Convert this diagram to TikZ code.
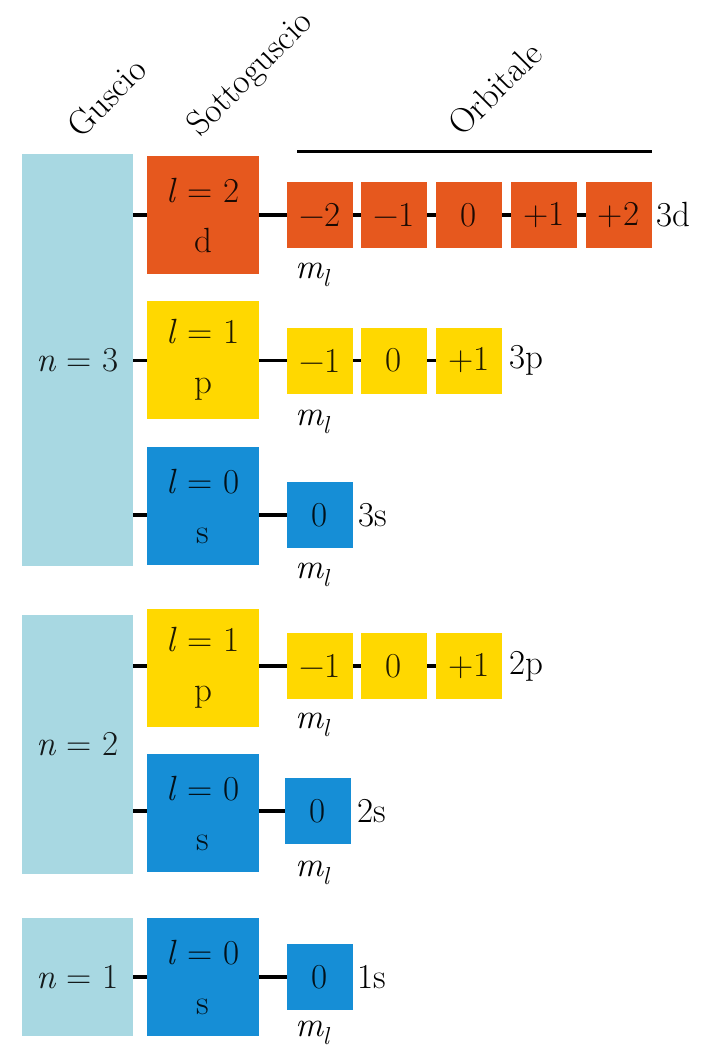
\documentclass[tikz,border=0pt]{standalone}
\newcommand{\orbfont}{\fontsize{35}{42}\selectfont}
\newcommand{\headfont}{\fontsize{35}{42}\selectfont}
\newcommand{\mlsym}{\textit{m}\textsubscript{\kern-1pt\textit{l}}}
\definecolor{gblue}{RGB}{168,216,226}
\definecolor{dorange}{RGB}{230,88,30}
\definecolor{pyellow}{RGB}{255,216,0}
\definecolor{sblue}{RGB}{22,142,214}
\tikzset{
  basebox/.style={draw=none, inner sep=0pt, outer sep=0pt, text opacity=0.88, font=\orbfont},
  gbox/.style={basebox, fill=gblue, minimum width=111pt},
  sbox/.style={basebox, minimum width=112pt, minimum height=118pt, align=center},
  obox/.style={basebox, minimum width=66pt, minimum height=66pt},
  dcol/.style={fill=dorange},
  pcol/.style={fill=pyellow},
  scol/.style={fill=sblue},
  conn/.style={line width=3.5pt},
  lab/.style={anchor=west, inner sep=0pt, font=\orbfont},
  mlab/.style={anchor=base, inner sep=0pt, font=\orbfont},
  head/.style={rotate=45, inner sep=0pt, font=\headfont}
}
\begin{document}
\begin{tikzpicture}[x=1pt,y=-1pt]
\useasboundingbox (0,0) rectangle (706,1054);
% headers
\node[head] (hg) at (106.5,97.5) {Guscio};
\node[head] (hs) at (251,75) {Sottoguscio};
\node[head] (ho) at (495,88.5) {Orbitale};
\coordinate (la) at (297,151);
\coordinate (lb) at (652,151);
\draw[line width=3pt] (la) -- (lb);
% shells
\node[gbox, minimum height=412pt] (g3) at (77.5,360) {\textit{n} = 3};
\node[gbox, minimum height=259pt] (g2) at (77.5,744.5) {\textit{n} = 2};
\node[gbox, minimum height=118pt] (g1) at (77.5,977) {\textit{n} = 1};
% subshells
\node[sbox, dcol] (s3d) at (203,215) {\textit{l} = 2\\[8pt]d};
\node[sbox, pcol] (s3p) at (203,360) {\textit{l} = 1\\[8pt]p};
\node[sbox, scol] (s3s) at (203,506) {\textit{l} = 0\\[8pt]s};
\node[sbox, pcol] (s2p) at (203,668) {\textit{l} = 1\\[8pt]p};
\node[sbox, scol] (s2s) at (203,813) {\textit{l} = 0\\[8pt]s};
\node[sbox, scol] (s1s) at (203,977) {\textit{l} = 0\\[8pt]s};
% orbitals 3d
\node[obox, dcol] (d1) at (320,215) {−2};
\node[obox, dcol] (d2) at (394,215) {−1};
\node[obox, dcol] (d3) at (469,215) {0};
\node[obox, dcol] (d4) at (544,215) {+1};
\node[obox, dcol] (d5) at (618.5,215) {+2};
% 3p
\node[obox, pcol] (p1) at (320,360.5) {−1};
\node[obox, pcol] (p2) at (394,360.5) {0};
\node[obox, pcol] (p3) at (469,360.5) {+1};
% 3s
\node[obox, scol] (t1) at (320,515) {0};
% 2p
\node[obox, pcol] (q1) at (320,666) {−1};
\node[obox, pcol] (q2) at (394,666) {0};
\node[obox, pcol] (q3) at (469,666) {+1};
% 2s
\node[obox, scol] (u1) at (317.5,811) {0};
% 1s
\node[obox, scol] (v1) at (320,977) {0};
% labels
\node[lab] (l3d) at (656,215) {3d};
\node[lab] (l3p) at (509,360.5) {3p};
\node[lab] (l3s) at (358,515) {3s};
\node[lab] (l2p) at (509,666) {2p};
\node[lab] (l2s) at (357,811) {2s};
\node[lab] (l1s) at (357,977) {1s};
% m_l labels
\node[mlab] (m3d) at (313,278) {\mlsym};
\node[mlab] (m3p) at (313,425) {\mlsym};
\node[mlab] (m3s) at (313,578) {\mlsym};
\node[mlab] (m2p) at (313,728) {\mlsym};
\node[mlab] (m2s) at (313,876) {\mlsym};
\node[mlab] (m1s) at (313,1036) {\mlsym};
% connectors shell -> subshell
\draw[conn] (g3.east |- d1.west) -- (s3d.west |- d1.west);
\draw[conn] (g3.east |- p1.west) -- (s3p.west |- p1.west);
\draw[conn] (g3.east |- t1.west) -- (s3s.west |- t1.west);
\draw[conn] (g2.east |- q1.west) -- (s2p.west |- q1.west);
\draw[conn] (g2.east |- u1.west) -- (s2s.west |- u1.west);
\draw[conn] (g1.east |- v1.west) -- (s1s.west |- v1.west);
% subshell -> orbitals
\draw[conn] (s3d.east |- d1.west) -- (d1.west);
\draw[conn] (s3p.east |- p1.west) -- (p1.west);
\draw[conn] (s3s.east |- t1.west) -- (t1.west);
\draw[conn] (s2p.east |- q1.west) -- (q1.west);
\draw[conn] (s2s.east |- u1.west) -- (u1.west);
\draw[conn] (s1s.east |- v1.west) -- (v1.west);
% between orbitals
\draw[conn] (d1.east) -- (d2.west);
\draw[conn] (d2.east) -- (d3.west);
\draw[conn] (d3.east) -- (d4.west);
\draw[conn] (d4.east) -- (d5.west);
\draw[conn] (p1.east) -- (p2.west);
\draw[conn] (p2.east) -- (p3.west);
\draw[conn] (q1.east) -- (q2.west);
\draw[conn] (q2.east) -- (q3.west);
\end{tikzpicture}
\end{document}
